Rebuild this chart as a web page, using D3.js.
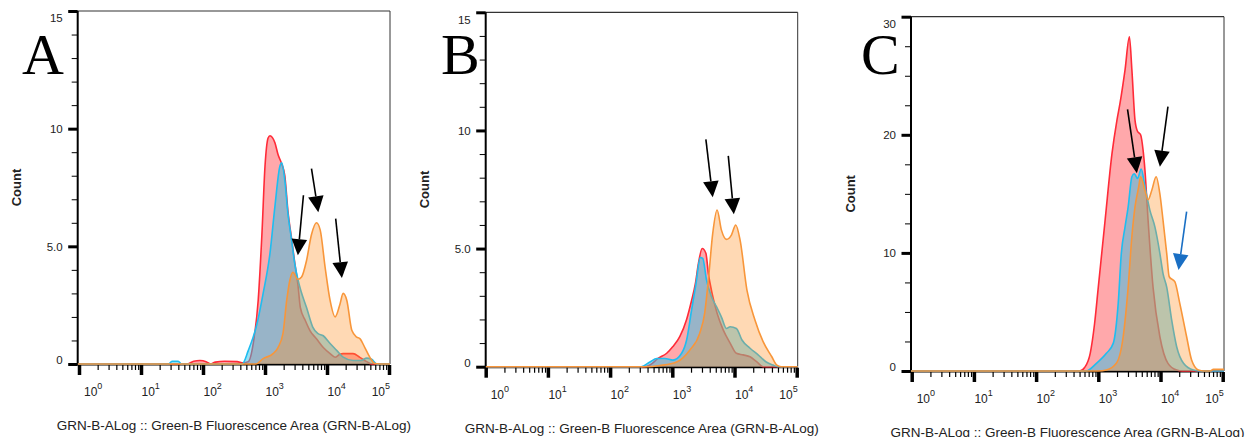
<!DOCTYPE html>
<html>
<head>
<meta charset="utf-8">
<script src="https://cdn.jsdelivr.net/npm/d3@7"></script>
<style>
  body { margin: 0; background: #fff; }
  svg { display: block; font-family: "Liberation Sans", Arial, sans-serif; }
</style>
</head>
<body>
<div id="chart"></div>
<script>
// ---- data: [log10(GRN-B-A), count] ----
const redA = [[-0.1,0],[1.75,0],[1.85,0.12],[1.95,0.15],[2.05,0.1],[2.12,0],[2.2,0.08],[2.35,0.12],[2.55,0.1],[2.65,0.05],[2.73,0.1],[2.81,0.87],[2.89,2.7],[2.95,5.5],[3.0,8.4],[3.05,9.6],[3.08,9.7],[3.16,9.4],[3.21,8.9],[3.27,8.5],[3.32,8.0],[3.37,6.5],[3.43,5.3],[3.48,4.3],[3.53,3.4],[3.57,2.4],[3.65,1.85],[3.73,1.4],[3.83,1.07],[3.94,0.7],[4.05,0.44],[4.13,0.29],[4.2,0.4],[4.26,0.44],[4.42,0.44],[4.53,0.28],[4.64,0.1],[4.72,0],[5.1,0]];
const blueA = [[-0.1,0],[1.45,0],[1.5,0.12],[1.6,0.12],[1.65,0],[2.63,0],[2.73,0.57],[2.87,1.7],[2.97,3.0],[3.08,4.7],[3.16,6.7],[3.24,8.4],[3.27,8.55],[3.32,7.8],[3.37,6.4],[3.43,5.25],[3.48,4.27],[3.53,3.6],[3.58,3.1],[3.67,2.4],[3.77,1.57],[3.85,1.3],[3.94,1.2],[4.05,0.87],[4.16,0.57],[4.26,0.29],[4.42,0.15],[4.55,0.15],[4.64,0.25],[4.72,0.2],[4.8,0],[5.1,0]];
const orangeA = [[-0.1,0],[2.85,0],[2.97,0.23],[3.13,0.44],[3.21,0.7],[3.29,1.3],[3.35,2.7],[3.4,3.55],[3.45,3.9],[3.53,3.6],[3.59,3.7],[3.67,4.4],[3.75,5.5],[3.83,6.0],[3.89,5.7],[3.97,4.1],[4.05,2.7],[4.13,2.0],[4.21,2.55],[4.26,3.0],[4.32,2.7],[4.4,1.43],[4.48,1.14],[4.53,1.08],[4.61,0.7],[4.69,0.29],[4.77,0.02],[4.85,0],[5.1,0]];

const redB = [[-0.1,0],[2.55,0],[2.64,0.07],[2.77,0.35],[2.91,0.57],[3.01,0.85],[3.12,1.27],[3.23,2.0],[3.31,2.8],[3.37,3.5],[3.42,4.37],[3.48,5.0],[3.54,4.8],[3.58,3.95],[3.64,3.1],[3.72,2.26],[3.82,1.55],[3.93,1.0],[4.03,0.57],[4.14,0.5],[4.25,0.42],[4.36,0.2],[4.46,0],[5.1,0]];
const blueB = [[-0.1,0],[2.5,0],[2.64,0.2],[2.75,0.35],[2.88,0.35],[3.01,0.28],[3.15,0.57],[3.23,1.13],[3.31,2.4],[3.38,3.5],[3.45,4.62],[3.49,4.58],[3.55,3.67],[3.63,2.96],[3.71,2.54],[3.79,2.1],[3.87,1.62],[3.93,1.69],[4.03,1.62],[4.12,1.13],[4.25,0.78],[4.38,0.5],[4.51,0.2],[4.62,0.07],[4.7,0],[5.1,0]];
const orangeB = [[-0.1,0],[2.6,0],[2.8,0.05],[3.07,0.2],[3.28,0.7],[3.44,1.41],[3.52,2.26],[3.58,3.67],[3.65,5.64],[3.72,6.63],[3.79,5.78],[3.87,5.39],[3.95,5.57],[4.02,6.0],[4.09,5.36],[4.2,3.24],[4.33,1.97],[4.46,1.06],[4.6,0.42],[4.68,0.07],[4.75,0],[5.1,0]];

const redC = [[-0.1,0],[2.7,0],[2.78,0.3],[2.87,1.5],[2.94,4.0],[3.0,7.1],[3.11,12.8],[3.22,18.4],[3.3,21.25],[3.35,22.7],[3.43,25.5],[3.5,28.3],[3.54,25.5],[3.59,21.25],[3.63,20.3],[3.68,20.0],[3.72,18.7],[3.75,17.0],[3.8,12.8],[3.88,7.1],[3.99,2.9],[4.12,0.65],[4.26,0.08],[4.35,0],[5.1,0]];
const blueC = [[-0.1,0],[2.8,0],[2.97,0.65],[3.13,1.5],[3.24,2.34],[3.32,5.73],[3.37,9.96],[3.43,12.2],[3.48,13.9],[3.54,16.45],[3.58,16.7],[3.63,16.3],[3.69,17.1],[3.75,15.6],[3.83,13.6],[3.91,12.2],[3.99,9.96],[4.04,8.27],[4.1,7.1],[4.18,4.3],[4.26,2.05],[4.37,0.65],[4.53,0.08],[4.65,0],[5.1,0]];
const orangeC = [[-0.1,0],[3.0,0],[3.13,0.08],[3.29,0.65],[3.4,2.9],[3.48,7.1],[3.54,11.4],[3.59,13.9],[3.65,15.6],[3.68,16.45],[3.75,15.3],[3.8,14.5],[3.86,15.3],[3.93,16.45],[3.99,15.0],[4.04,12.8],[4.1,9.96],[4.14,7.98],[4.23,7.56],[4.31,5.73],[4.42,2.9],[4.5,0.93],[4.61,0.08],[4.7,0],[4.8,0],[4.85,0.15],[5.0,0.15],[5.1,0]];

// arrows: [tail log10, tail count, tip log10, tip count]
const arrowsA = [[3.62,7.17,3.53,4.62],[3.75,8.3,3.86,6.45],[4.14,6.18,4.24,3.65]];
const arrowsB = [[3.54,9.62,3.65,7.17],[3.9,8.92,3.99,6.45]];
const arrowsC = [[3.47,22.16,3.62,16.74],[4.12,22.38,3.99,17.3]];
const arrowsCBlue = [[4.42,13.49,4.29,8.55]];

const decades = [0, 1, 2, 3, 4, 5];
const yTicksAB = [0, 5, 10, 15];
const yLabelsAB = ["0", "5.0", "10", "15"];
const yTicksC = [0, 10, 20, 30];
const yLabelsC = ["0", "10", "20", "30"];
const letters = ["A", "B", "C"];
const xTitle = "GRN-B-ALog :: Green-B Fluorescence Area (GRN-B-ALog)";

// ---- layout ----
const width = 1257, height = 446;
const panels = [
  { letter: letters[0], red: redA, blue: blueA, orange: orangeA, arrows: arrowsA, blueArrows: [],
    yMax: 15, yTicks: yTicksAB, yLabels: yLabelsAB, minorStep: 1,
    left: 77.7, right: 390, top: 11, zero: 364, x0: 79, x5: 389, letterX: 22 },
  { letter: letters[1], red: redB, blue: blueB, orange: orangeB, arrows: arrowsB, blueArrows: [],
    yMax: 15, yTicks: yTicksAB, yLabels: yLabelsAB, minorStep: 1,
    left: 485.7, right: 797.7, top: 12.3, zero: 366.7, x0: 485.7, x5: 796.7, letterX: 441 },
  { letter: letters[2], red: redC, blue: blueC, orange: orangeC, arrows: arrowsC, blueArrows: arrowsCBlue,
    yMax: 30, yTicks: yTicksC, yLabels: yLabelsC, minorStep: 2.5,
    left: 911, right: 1224, top: 16.7, zero: 371, x0: 911.7, x5: 1222.7, letterX: 861 }
];

const svg = d3.select("#chart").append("svg")
  .attr("width", width)
  .attr("height", height);

const defs = svg.append("defs");
defs.append("clipPath").attr("id", "pageClip")
  .append("rect").attr("x", 0).attr("y", 0).attr("width", width).attr("height", 437);

const textColor = "#222";

panels.forEach((p, idx) => drawPanel(p, idx));

function drawPanel(p, idx) {
  const x = d3.scaleLog().domain([1, 1e5]).range([p.x0, p.x5]);
  const y = d3.scaleLinear().domain([0, p.yMax]).range([p.zero, p.top]);
  const g = svg.append("g");

  defs.append("clipPath").attr("id", "clip" + idx)
    .append("rect")
    .attr("x", p.left).attr("y", p.top - 5)
    .attr("width", p.right - p.left).attr("height", p.zero - p.top + 7);

  // frame
  g.append("line").attr("x1", p.left).attr("x2", p.right).attr("y1", p.top).attr("y2", p.top)
    .attr("stroke", "#333").attr("stroke-width", 1.2);
  g.append("line").attr("x1", p.right).attr("x2", p.right).attr("y1", p.top).attr("y2", p.zero)
    .attr("stroke", "#333").attr("stroke-width", 1);
  g.append("line").attr("x1", p.left).attr("x2", p.left).attr("y1", p.top).attr("y2", p.zero + 1)
    .attr("stroke", "#000").attr("stroke-width", 2);
  g.append("line").attr("x1", p.left).attr("x2", p.right).attr("y1", p.zero + 0.5).attr("y2", p.zero + 0.5)
    .attr("stroke", "#000").attr("stroke-width", 2);

  // histograms
  const ex = d => x(Math.pow(10, d[0]));
  const area = d3.area().x(ex).y0(p.zero).y1(d => y(d[1])).curve(d3.curveMonotoneX);
  const line = d3.line().x(ex).y(d => y(d[1])).curve(d3.curveMonotoneX);

  const series = [
    { data: p.red, fill: "rgba(255,0,10,0.34)", stroke: "#ff2b38" },
    { data: p.blue, fill: "rgba(49,192,230,0.5)", stroke: "#1fbdf0" },
    { data: p.orange, fill: "rgba(255,146,40,0.35)", stroke: "#f8963a" }
  ];
  const plot = g.append("g").attr("clip-path", `url(#clip${idx})`);
  series.forEach(s => {
    plot.append("path").datum(s.data).attr("d", area).attr("fill", s.fill);
    plot.append("path").datum(s.data).attr("d", line)
      .attr("fill", "none").attr("stroke", s.stroke).attr("stroke-width", 1.6)
      .attr("stroke-linejoin", "round");
  });

  // y axis
  const minorY = d3.range(0, p.yMax + 0.01, p.minorStep).filter(v => !p.yTicks.includes(v));
  g.append("g").attr("transform", `translate(${p.left},0)`)
    .call(d3.axisLeft(y).tickValues(minorY).tickSize(6).tickFormat(""))
    .call(a => a.select(".domain").remove())
    .selectAll("line").attr("stroke", "#000").attr("stroke-width", 1);
  const yMajor = g.append("g").attr("transform", `translate(${p.left},0)`)
    .call(d3.axisLeft(y).tickValues(p.yTicks).tickSize(9.5).tickPadding(5.5)
      .tickFormat((d, i) => p.yLabels[i]))
    .call(a => a.select(".domain").remove());
  yMajor.selectAll("line").attr("stroke", "#000").attr("stroke-width", 3);
  yMajor.selectAll("text")
    .attr("fill", textColor)
    .attr("font-size", "11.5px")
    .attr("font-family", "'Liberation Sans', Arial, sans-serif")
    .attr("dy", d => d === p.yMax ? "0.95em" : d === 0 ? "-0.05em" : "0.32em");

  // x axis (log decades)
  const minorX = [];
  decades.slice(0, -1).forEach(dcd => d3.range(2, 10).forEach(m => minorX.push(m * Math.pow(10, dcd))));
  g.append("g").attr("transform", `translate(0,${p.zero + 1})`)
    .call(d3.axisBottom(x).tickValues(minorX).tickSize(5).tickFormat(""))
    .call(a => a.select(".domain").remove())
    .selectAll("line").attr("stroke", "#000").attr("stroke-width", 1.2);
  g.append("g").attr("transform", `translate(0,${p.zero + 1})`)
    .call(d3.axisBottom(x).tickValues(decades.map(d => Math.pow(10, d))).tickSize(10).tickFormat(""))
    .call(a => a.select(".domain").remove())
    .selectAll("line").attr("stroke", "#000").attr("stroke-width", 3.5);

  decades.forEach((dcd, i) => {
    const tx = x(Math.pow(10, dcd));
    const last = i === decades.length - 1;
    const t = g.append("text")
      .attr("x", last ? tx + 1 : tx + (i === 0 ? 5 : 0.5))
      .attr("y", p.zero + 32)
      .attr("text-anchor", last ? "end" : "start")
      .attr("fill", textColor)
      .attr("font-size", "12px");
    t.append("tspan").text("10");
    t.append("tspan").attr("dy", -7).attr("font-size", "9px").text(dcd);
  });

  // axis titles
  g.append("text")
    .attr("transform", `translate(${p.left - 61},${(p.top + p.zero) / 2}) rotate(-90)`)
    .attr("text-anchor", "middle")
    .attr("dominant-baseline", "central")
    .attr("font-size", "13px")
    .attr("font-weight", "bold")
    .attr("fill", textColor)
    .text("Count");

  g.append("text")
    .attr("clip-path", "url(#pageClip)")
    .attr("x", (p.left + p.right) / 2)
    .attr("y", p.zero + 66)
    .attr("text-anchor", "middle")
    .attr("font-size", "13.5px")
    .attr("fill", textColor)
    .text(xTitle);

  // panel letter
  g.append("text")
    .attr("x", p.letterX)
    .attr("y", 74)
    .attr("font-family", "'Liberation Serif', 'Times New Roman', serif")
    .attr("font-size", "58px")
    .attr("fill", "#000")
    .text(p.letter);

  // arrows
  const drawArrow = (a, color) => {
    const x1 = x(Math.pow(10, a[0])), y1 = y(a[1]);
    const x2 = x(Math.pow(10, a[2])), y2 = y(a[3]);
    const len = Math.hypot(x2 - x1, y2 - y1);
    const ux = (x2 - x1) / len, uy = (y2 - y1) / len;
    const headL = 16, headW = 7.8;
    const bx = x2 - ux * headL, by = y2 - uy * headL;
    g.append("line").attr("x1", x1).attr("y1", y1).attr("x2", bx).attr("y2", by)
      .attr("stroke", color).attr("stroke-width", 1.6);
    g.append("path")
      .attr("d", `M${x2},${y2}L${bx - uy * headW},${by + ux * headW}L${bx + uy * headW},${by - ux * headW}Z`)
      .attr("fill", color);
  };
  p.arrows.forEach(a => drawArrow(a, "#000"));
  p.blueArrows.forEach(a => drawArrow(a, "#1a6fc4"));
}
</script>
</body>
</html>
